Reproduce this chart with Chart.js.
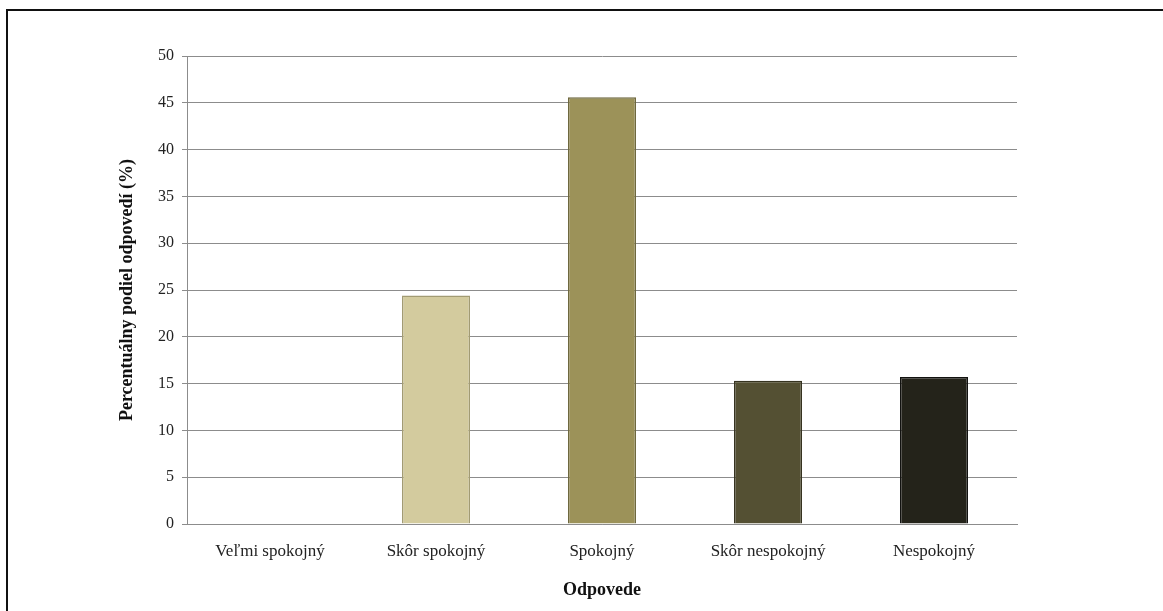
<!doctype html>
<html lang="sk">
  <head>
    <meta charset="UTF-8" />
    <title>Spokojnosť</title>
    <script src="https://cdn.jsdelivr.net/npm/chart.js"></script>
    <style>
      body {
        margin: 0;
        background: #fff;
      }
      #frame {
        position: absolute;
        left: 6px;
        top: 9px;
        width: 1200px;
        height: 700px;
        border-left: 2px solid #111;
        border-top: 2px solid #111;
      }
      #wrap {
        position: absolute;
        left: 0;
        top: 0;
        width: 1163px;
        height: 611px;
      }
    </style>
  </head>
  <body>
    <div id="frame"></div>
    <div id="wrap"><canvas id="satisfactionChart"></canvas></div>

    <script>
      const categories = [
        "Veľmi spokojný",
        "Skôr spokojný",
        "Spokojný",
        "Skôr nespokojný",
        "Nespokojný",
      ];
      const shares = [0, 24.4, 45.6, 15.3, 15.7];
      const barColors = ["#d3cb9e", "#d3cb9e", "#9c9259", "#545033", "#24231a"];
      const edgeColors = ["#a29b73", "#a29b73", "#6e683e", "#363320", "#121210"];

      const serif = "'Liberation Serif', 'Times New Roman', serif";

      new Chart(document.getElementById("satisfactionChart"), {
        type: "bar",
        data: {
          labels: categories,
          datasets: [
            {
              label: "Percentuálny podiel",
              data: shares,
              backgroundColor: barColors,
              borderColor: edgeColors,
              borderWidth: 1.5,
              categoryPercentage: 1,
              barPercentage: 0.41,
            },
          ],
        },
        options: {
          responsive: true,
          maintainAspectRatio: false,
          animation: false,
          layout: {
            padding: { left: 113, top: 56, right: 146, bottom: 0 },
          },
          plugins: {
            legend: { display: false },
            tooltip: { enabled: false },
          },
          scales: {
            x: {
              grid: { display: false },
              border: { color: "#8c8c8c", width: 1 },
              ticks: {
                color: "#222",
                padding: 9,
                font: { family: serif, size: 17 },
              },
              title: {
                display: true,
                text: "Odpovede",
                color: "#111",
                font: { family: serif, size: 18, weight: "bold" },
                padding: { top: 0, bottom: 10 },
              },
              afterFit: (scale) => {
                scale.height = 87;
              },
            },
            y: {
              min: 0,
              max: 50,
              ticks: {
                stepSize: 5,
                color: "#222",
                padding: 8,
                font: { family: serif, size: 16 },
              },
              grid: { color: "#8c8c8c", lineWidth: 1, tickLength: 5 },
              border: { color: "#8c8c8c", width: 1 },
              title: {
                display: true,
                text: "Percentuálny podiel odpovedí (%)",
                color: "#111",
                font: { family: serif, size: 18, weight: "bold" },
                padding: { top: 4, bottom: 0 },
              },
              afterFit: (scale) => {
                scale.width = 74;
              },
            },
          },
        },
      });
    </script>
  </body>
</html>
